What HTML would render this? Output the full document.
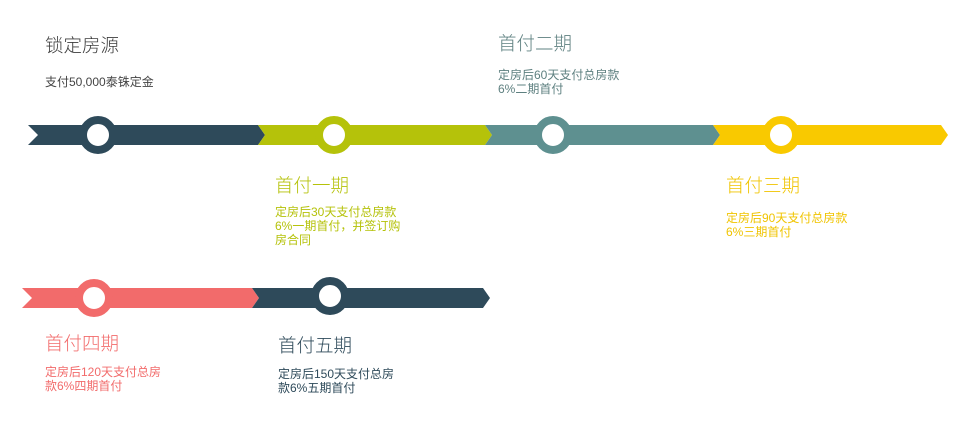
<!DOCTYPE html>
<html><head><meta charset="utf-8"><style>
body{margin:0;width:975px;height:430px;background:#fff;position:relative;overflow:hidden;font-family:"Liberation Sans","Noto Sans CJK SC",sans-serif;}
.t{position:absolute;font-size:18.5px;line-height:19px;white-space:nowrap;font-weight:300}
.s{position:absolute;font-size:12px;line-height:14px;white-space:nowrap}
svg{position:absolute;left:0;top:0}
</style></head><body>
<svg width="975" height="430">
<polygon points="28,125 258,125 265,135 258,145 28,145 38,135" fill="#2e4a5a"/>
<polygon points="258,125 485,125 492,135 485,145 258,145 265,135" fill="#b5c20a"/>
<polygon points="485,125 713,125 720,135 713,145 485,145 492,135" fill="#5e9090"/>
<polygon points="713,125 941,125 948,135 941,145 713,145 720,135" fill="#f9c900"/>
<circle cx="98" cy="135" r="15" fill="#fff" stroke="#2e4a5a" stroke-width="8"/>
<circle cx="334" cy="135" r="15" fill="#fff" stroke="#b5c20a" stroke-width="8"/>
<circle cx="553" cy="135" r="15" fill="#fff" stroke="#5e9090" stroke-width="8"/>
<circle cx="781" cy="135" r="15" fill="#fff" stroke="#f9c900" stroke-width="8"/>
<polygon points="22,288 252,288 259,298 252,308 22,308 32,298" fill="#f26b6b"/>
<polygon points="252,288 483,288 490,298 483,308 252,308 259,298" fill="#2e4a5a"/>
<circle cx="94" cy="298" r="15" fill="#fff" stroke="#f26b6b" stroke-width="8"/>
<circle cx="330" cy="296" r="15" fill="#fff" stroke="#2e4a5a" stroke-width="8"/>
</svg>
<div class="t" style="left:45px;top:36px;color:#3c3c3c">锁定房源</div>
<div class="s" style="left:45px;top:75px;color:#444">支付50,000泰铢定金</div>
<div class="t" style="left:498px;top:34px;color:#5e8080">首付二期</div>
<div class="s" style="left:498px;top:68px;color:#5e8080">定房后60天支付总房款<br>6%二期首付</div>
<div class="t" style="left:275px;top:176px;color:#b5c20a">首付一期</div>
<div class="s" style="left:275px;top:205px;color:#b5c20a">定房后30天支付总房款<br>6%一期首付，并签订购<br>房合同</div>
<div class="t" style="left:726px;top:176px;color:#f0c400">首付三期</div>
<div class="s" style="left:726px;top:211px;color:#f0c400">定房后90天支付总房款<br>6%三期首付</div>
<div class="t" style="left:45px;top:334px;color:#f26b6b">首付四期</div>
<div class="s" style="left:45px;top:365px;color:#f26b6b">定房后120天支付总房<br>款6%四期首付</div>
<div class="t" style="left:278px;top:336px;color:#2e4a5a">首付五期</div>
<div class="s" style="left:278px;top:367px;color:#2e4a5a">定房后150天支付总房<br>款6%五期首付</div>
</body></html>
